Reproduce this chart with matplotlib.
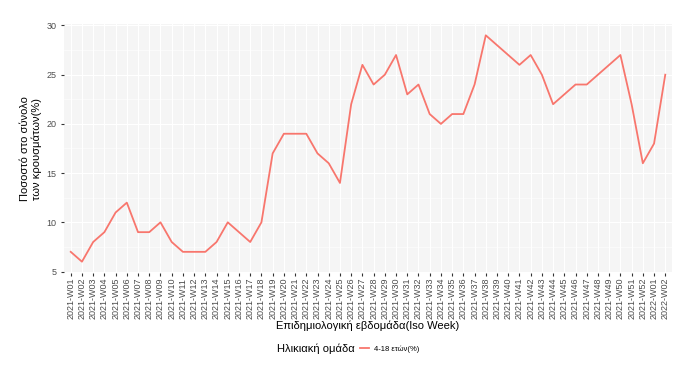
import numpy as np
import matplotlib
matplotlib.use('Agg')
from matplotlib import pyplot as plt
from matplotlib.lines import Line2D

# week labels: 2021-W01..2021-W52, 2022-W01, 2022-W02
weeks = ['2021-W%02d' % i for i in range(1, 53)] + ['2022-W01', '2022-W02']
# percentage of cases, age group 4-18
pct_4_18 = [7, 6, 8, 9, 11, 12, 9, 9, 10, 8,
            7, 7, 7, 8, 10, 9, 8, 10, 17, 19,
            19, 19, 17, 16, 14, 22, 26, 24, 25, 27,
            23, 24, 21, 20, 21, 21, 24, 29, 28, 27,
            26, 27, 25, 22, 23, 24, 24, 25, 26, 27,
            22, 16, 18, 25]
series_label = '4-18 ετών(%)'
line_col = '#F8766D'

plt.rcParams['font.family'] = ['Liberation Sans', 'DejaVu Sans']

fig = plt.figure(figsize=(6.97, 3.67), dpi=100)
ax = fig.add_axes([64/697, 1 - 273/367, (672-64)/697, (273-24)/367])

x = np.arange(len(weeks))
ax.plot(x, pct_4_18, color=line_col, lw=1.3)

#ggplot-ish panel
ax.set_facecolor('#F5F5F5')
for s in ax.spines.values():
    s.set_visible(False)
ax.set_xlim(-0.6, len(weeks) - 1 + 0.6)
ax.set_ylim(4.85, 30.15)
ax.set_yticks([5, 10, 15, 20, 25, 30])
ax.set_yticks([7.5, 12.5, 17.5, 22.5, 27.5], minor=True)
ax.set_xticks(x)
ax.set_xticklabels(weeks, rotation=90, fontsize=6.5, color='#4D4D4D')
ax.tick_params(axis='y', labelsize=6.5, labelcolor='#4D4D4D', length=2, color='#333333')
ax.tick_params(axis='x', length=2, color='#333333', pad=1.5)
ax.tick_params(axis='y', which='minor', length=0)
ax.grid(True, which='major', color='white', lw=0.8)
ax.grid(True, which='minor', axis='y', color='white', lw=0.4)
ax.set_axisbelow(True)

ax.set_xlabel('Επιδημιολογική εβδομάδα(Iso Week)', fontsize=8, labelpad=1)
ax.set_ylabel('Ποσοστό στο σύνολο\nτων κρουσμάτων(%)', fontsize=8, labelpad=3)

# legend: title on the left, key on the right
fig.text(355/697, 1 - 349/367, 'Ηλικιακή ομάδα', fontsize=8, ha='right', va='center')
handle = Line2D([], [], color=line_col, lw=1.3)
fig.legend([handle], [series_label], loc='center left',
           bbox_to_anchor=(360/697, 1 - 349/367), frameon=False, fontsize=5.5,
           handlelength=1.2, handletextpad=0.6, borderpad=0, borderaxespad=0)

fig.savefig('out.png', dpi=100)
